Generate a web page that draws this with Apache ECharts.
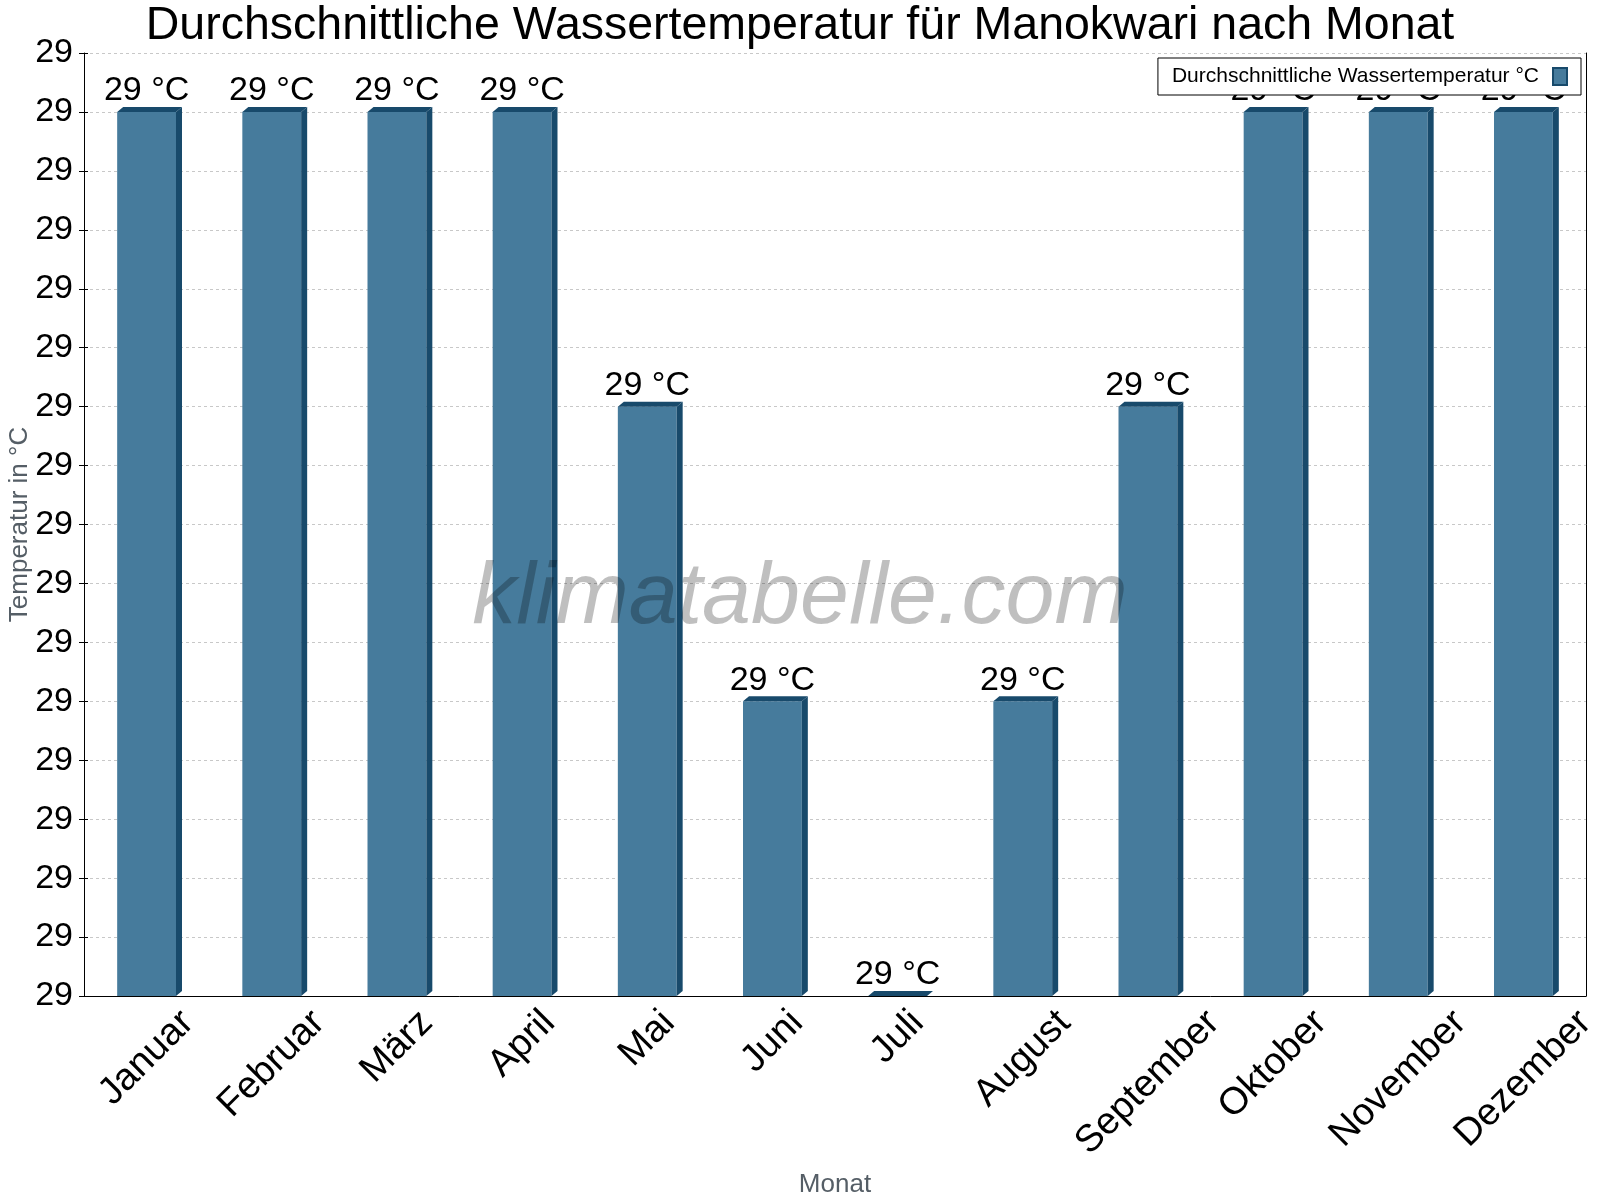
<!DOCTYPE html>
<html>
<head>
<meta charset="utf-8">
<script src="https://cdn.jsdelivr.net/npm/echarts@6/dist/echarts.min.js"></script>
<style>
  html, body { margin: 0; padding: 0; background: #fff; }
  #chart { width: 1600px; height: 1200px; }
</style>
</head>
<body>
<div id="chart"></div>
<script>
// Monate und Werte (°C)
var months = ['Januar', 'Februar', 'März', 'April', 'Mai', 'Juni', 'Juli',
  'August', 'September', 'Oktober', 'November', 'Dezember'];
var waterTemp = [29.3, 29.3, 29.3, 29.3, 29.2, 29.1, 29.0, 29.1, 29.2, 29.3, 29.3, 29.3];
var yMin = 29.0, yMax = 29.32, yStep = 0.02;

var FONT = '"Liberation Sans", Arial, sans-serif';
var front = '#467b9c', dark = '#184a6b';

// Monatsnamen: schräg, um ihre Mitte gedreht
var ctx = document.createElement('canvas').getContext('2d');
ctx.font = '38px ' + FONT;
var rich = {};
months.forEach(function (m, i) {
    var p = ctx.measureText(m).width / 2;
    rich['m' + i] = { fontSize: 38, fontFamily: FONT, color: '#000', padding: [p, p, 0, 0] };
});

var chart = echarts.init(document.getElementById('chart'));
chart.setOption({
    animation: false,
    title: {
        text: 'Durchschnittliche Wassertemperatur für Manokwari nach Monat',
        left: 'center', top: 3, padding: 0,
        textStyle: { fontFamily: FONT, fontSize: 46.5, fontWeight: 'normal', color: '#000' }
    },
    legend: {
        data: [{ name: 'Durchschnittliche Wassertemperatur °C', icon: 'rect' }],
        right: 19, top: 58, align: 'right',
        padding: [8, 13, 8, 14],
        borderColor: '#000', borderWidth: 1, backgroundColor: '#fff',
        itemWidth: 14, itemHeight: 17,
        textStyle: { fontFamily: FONT, fontSize: 21, color: '#000', padding: [0, 9, 0, 0] }
    },
    grid: { left: 84, right: 14, top: 53, bottom: 204, outerBoundsMode: 'none' },
    xAxis: [{
        type: 'category', data: months,
        axisLine: { lineStyle: { color: '#000' } },
        axisTick: { length: 4, lineStyle: { color: '#000' } },
        axisLabel: {
            interval: 0, rotate: 45, align: 'center', verticalAlign: 'middle', margin: 21,
            formatter: function (v, i) { return '{m' + i + '|' + v + '}'; },
            rich: rich
        },
        name: 'Monat', nameLocation: 'middle', nameGap: 176, nameMoveOverlap: false,
        nameTextStyle: { fontFamily: FONT, fontSize: 26, color: '#555e66' }
    }, {
        type: 'category', data: months, position: 'bottom',
        axisLine: { show: false },
        axisTick: { inside: true, length: 4, lineStyle: { color: '#000' } },
        axisLabel: { show: false }
    }],
    yAxis: [{
        type: 'value', min: yMin, max: yMax, interval: yStep,
        axisLine: { show: true, lineStyle: { color: '#000' } },
        axisTick: { show: true, length: 5, lineStyle: { color: '#000' } },
        axisLabel: {
            margin: 11, fontFamily: FONT, fontSize: 34, color: '#000',
            formatter: function (v) { return Math.round(v).toString(); }
        },
        splitLine: { lineStyle: { color: '#c8c8c8', type: [3, 3] } },
        name: 'Temperatur in °C', nameLocation: 'middle', nameGap: 51, nameMoveOverlap: false,
        nameTextStyle: { fontFamily: FONT, fontSize: 26, color: '#555e66' }
    }, {
        type: 'value', min: yMin, max: yMax, interval: yStep, position: 'left',
        axisLine: { show: false },
        axisTick: { show: true, inside: true, length: 4, lineStyle: { color: '#000' } },
        axisLabel: { show: false }, splitLine: { show: false }
    }, {
        type: 'value', min: yMin, max: yMax, interval: yStep, position: 'right',
        axisLine: { show: true, lineStyle: { color: '#000' } },
        axisTick: { show: false }, axisLabel: { show: false }, splitLine: { show: false }
    }],
    graphic: [{
        type: 'text', left: 'center', top: 555, z: 100,
        style: {
            text: 'klimatabelle.com', font: 'italic 88px ' + FONT,
            fill: 'rgba(0,0,0,0.25)'
        }
    }],
    series: [{
        name: 'Durchschnittliche Wassertemperatur °C',
        type: 'custom',
        itemStyle: { color: front, borderColor: dark, borderWidth: 1 },
        data: waterTemp.map(function (v, i) { return [i, v]; }),
        renderItem: function (params, api) {
            var v = api.value(1);
            var top = api.coord([api.value(0), v]);
            var base = api.coord([api.value(0), yMin]);
            var bw = api.size([1, 0])[0] * 0.47;
            var dx = 6, dy = 5;
            var l = top[0] - bw / 2, r = l + bw;
            return {
                type: 'group',
                children: [{
                    type: 'rect',
                    shape: { x: l, y: top[1], width: bw, height: base[1] - top[1] },
                    style: { fill: front }
                }, {
                    type: 'polygon',
                    shape: { points: [[r, top[1]], [r + dx, top[1] - dy], [r + dx, base[1] - dy], [r, base[1]]] },
                    style: { fill: dark }
                }, {
                    type: 'polygon',
                    shape: { points: [[l, top[1]], [l + dx, top[1] - dy], [r + dx, top[1] - dy], [r, top[1]]] },
                    style: { fill: dark }
                }, {
                    type: 'text',
                    style: {
                        text: Math.round(v) + ' °C', x: top[0], y: top[1] - dy + 1,
                        align: 'center', verticalAlign: 'bottom',
                        font: '34px ' + FONT, fill: '#000'
                    }
                }]
            };
        }
    }]
});
</script>
</body>
</html>
